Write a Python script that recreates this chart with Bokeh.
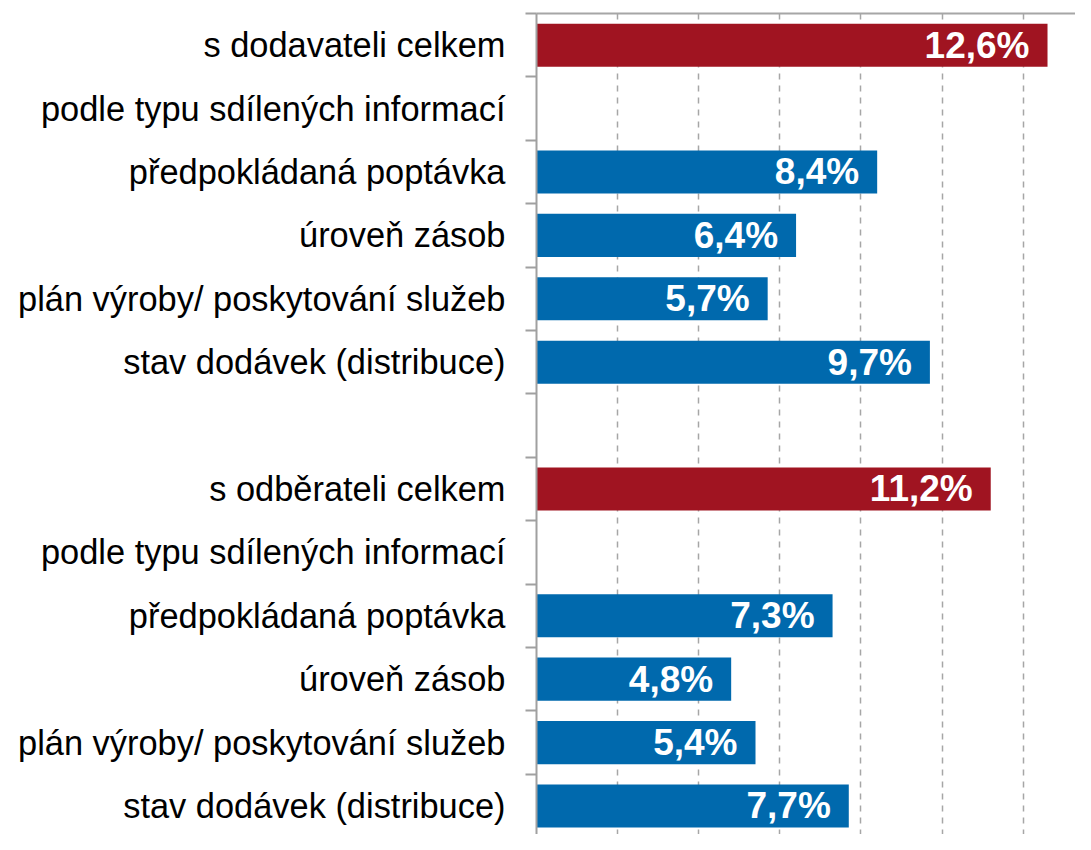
from bokeh.plotting import figure
from bokeh.models import ColumnDataSource, Range1d, FixedTicker
from bokeh.core.properties import value
from bokeh.embed import file_html
from bokeh.resources import INLINE

categories = [
    "s dodavateli celkem",
    "podle typu sdílených informací",
    "předpokládaná poptávka",
    "úroveň zásob",
    "plán výroby/ poskytování služeb",
    "stav dodávek (distribuce)",
    "",
    "s odběrateli celkem",
    "podle typu sdílených informací",
    "předpokládaná poptávka",
    "úroveň zásob",
    "plán výroby/ poskytování služeb",
    "stav dodávek (distribuce)",
]
values = [12.6, None, 8.4, 6.4, 5.7, 9.7, None, 11.2, None, 7.3, 4.8, 5.4, 7.7]
kinds = ["total", "header", "detail", "detail", "detail", "detail", "gap",
         "total", "header", "detail", "detail", "detail", "detail"]

COLORS = {"total": "#A01421", "detail": "#0069AD"}

ys, vs, cols, labs = [], [], [], []
for i, (v, k) in enumerate(zip(values, kinds)):
    if v is None:
        continue
    ys.append(i)
    vs.append(v)
    cols.append(COLORS[k])
    labs.append(f"{v:.1f}".replace(".", ",") + "%")

src = ColumnDataSource(dict(y=ys, v=vs, color=cols, label=labs))

n = len(categories)
p = figure(width=1075, height=834,
           x_range=Range1d(0, 13.29), y_range=Range1d(n - 0.55, -0.5),
           output_backend="svg", toolbar_location=None, x_axis_location="above",
           min_border_left=536, min_border_right=0, min_border_top=13, min_border_bottom=0)
p.outline_line_color = None
p.background_fill_color = "white"

# top axis: only the line
xa = p.xaxis[0]
xa.ticker = FixedTicker(ticks=[])
xa.axis_line_color = "#A6A6A6"
xa.axis_line_width = 2
xa.major_tick_line_color = None
xa.minor_tick_line_color = None
xa.major_label_standoff = 0

p.xgrid.ticker = FixedTicker(ticks=[2, 4, 6, 8, 10, 12])
p.xgrid.grid_line_color = "#A6A6A6"
p.xgrid.grid_line_dash = "6 6"
p.xgrid.grid_line_width = 1.5
p.ygrid.grid_line_color = None

label_slots = [i for i, c in enumerate(categories) if c]
ya = p.yaxis[0]
ya.ticker = FixedTicker(ticks=label_slots, minor_ticks=[i - 0.5 for i in range(n + 1)])
ya.major_label_overrides = {i: categories[i] for i in label_slots}
ya.axis_line_color = "#A0A0A0"
ya.axis_line_width = 2
ya.major_tick_line_color = None
ya.major_tick_out = 0
ya.major_tick_in = 0
ya.minor_tick_line_color = "#A0A0A0"
ya.minor_tick_line_width = 2
ya.minor_tick_out = 11
ya.minor_tick_in = 0
ya.major_label_text_font = "Liberation Sans"
ya.major_label_text_font_size = "34.4px"
ya.major_label_text_color = "#000000"
ya.major_label_standoff = 20

p.hbar(y="y", left=0, right="v", height=0.68, fill_color="color", line_color=None, source=src)
p.text(x="v", y="y", text="label", x_offset=-18, text_align="right", text_baseline="middle",
       text_color="white", text_font=value("Liberation Sans"), text_font_style="bold",
       text_font_size="37px", source=src)

open("out.html", "w").write(file_html(p, INLINE))
